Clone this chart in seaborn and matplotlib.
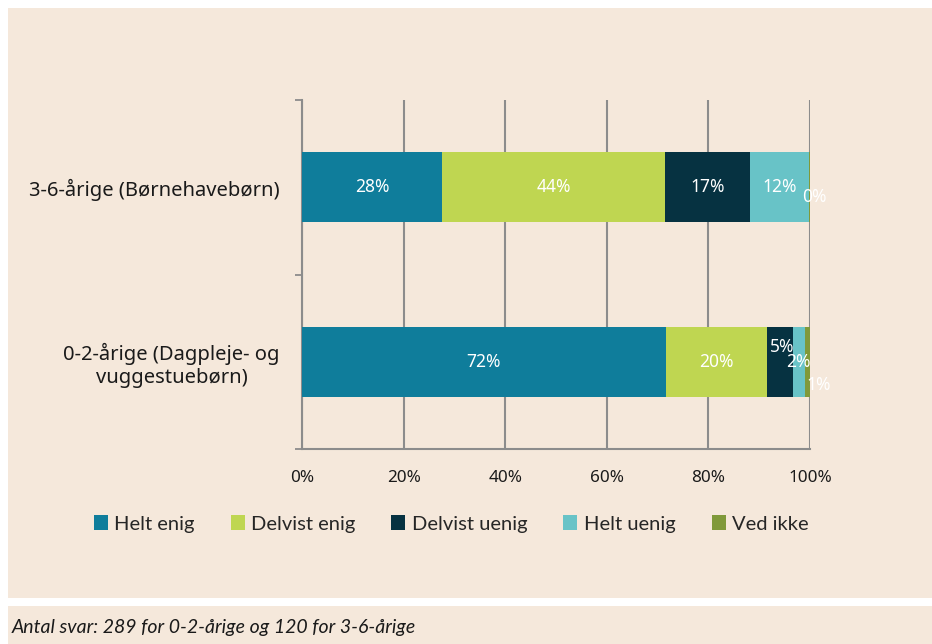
import matplotlib
matplotlib.use('Agg')
import matplotlib.pyplot as plt
from matplotlib.patches import Rectangle
import seaborn as sns
import pandas as pd
import numpy as np

# data (percent)
groups = ["3-6-årige (Børnehavebørn)", "0-2-årige (Dagpleje- og\nvuggestuebørn)"]
answers = ["Helt enig", "Delvist enig", "Delvist uenig", "Helt uenig", "Ved ikke"]
vals_3_6 = [27.6, 43.9, 16.7, 11.6, 0.2]
vals_0_2 = [71.6, 19.9, 5.1, 2.4, 1.0]
colors = ["#0f7d9b", "#bfd651", "#063241", "#68c3c7", "#80993a"]
x_ticks = [0, 20, 40, 60, 80, 100]

bg = "#f5e8db"

sns.set_theme(style="white")
plt.rcParams['font.family'] = ['Noto Sans', 'DejaVu Sans']

df = pd.DataFrame([vals_3_6, vals_0_2], columns=answers)
df.insert(0, "group", groups)
cum = df[answers].cumsum(axis=1)
cum["group"] = groups

fig = plt.figure(figsize=(9.32, 6.44), dpi=100)
fig.patch.set_facecolor("white")
fig.patches.append(Rectangle((8/932, 1-598/644), 1-8/932, 590/644,
                             transform=fig.transFigure, facecolor=bg, edgecolor="none", zorder=-10))
fig.patches.append(Rectangle((8/932, 0), 1-8/932, 1-606/644,
                             transform=fig.transFigure, facecolor=bg, edgecolor="none", zorder=-10))

ax = fig.add_axes([302/932, 1-449/644, 508/932, 349/644])
ax.set_facecolor(bg)

# stacked bars: draw cumulative totals from the last segment back to the first
for i in range(len(answers) - 1, -1, -1):
    sns.barplot(data=cum, x=answers[i], y="group", order=groups, color=colors[i],
                width=0.4, ax=ax, saturation=1, edgecolor="none", zorder=3)

# segment labels
offsets = {(0, 4): (5, -10), (1, 2): (2, 15), (1, 4): (11, -23)}
for r, row in enumerate([vals_3_6, vals_0_2]):
    left = 0
    for c, v in enumerate(row):
        dx, dy = offsets.get((r, c), (0, 0))
        ax.annotate(f"{round(v):.0f}%", (left + v / 2, r), xytext=(dx * 0.72, dy * 0.72),
                    textcoords="offset points", ha="center", va="center",
                    color="white", fontsize=12.5, zorder=5)
        left += v

ax.set_xlim(0, 100)
ax.set_ylim(1.5, -0.5)
ax.set_xticks(x_ticks)
ax.set_xticklabels([f"{t}%" for t in x_ticks], fontsize=12.3, color="#1a1a1a")
ax.set_yticks([-0.5, 0.5, 1.5])
ax.set_yticklabels([])
ax.set_yticks([0, 1], minor=True)
ax.set_yticklabels(groups, minor=True, fontsize=14.5, color="#1a1a1a", ha="right",
                   multialignment="center")
ax.tick_params(axis="y", which="major", left=True, length=5, width=1.3, color="#8c8c8c",
               direction="out")
ax.tick_params(axis="y", which="minor", left=True, length=0, pad=16)
ax.tick_params(axis="x", length=0, pad=15)
ax.set_xlabel("")
ax.set_ylabel("")
ax.grid(axis="x", color="#8c8c8c", linewidth=1.5, zorder=0)
for s in ["top", "right"]:
    ax.spines[s].set_visible(False)
for s in ["left", "bottom"]:
    ax.spines[s].set_color("#8c8c8c")
    ax.spines[s].set_linewidth(1.5)

handles = [Rectangle((0, 0), 1, 1, facecolor=c, edgecolor="none") for c in colors]
fig.legend(handles, answers, loc="center", bbox_to_anchor=(451/932, 1-524/644), ncol=5,
           frameon=False, handlelength=0.7, handleheight=0.7,
           handletextpad=0.3, columnspacing=1.8,
           prop={"family": ["Lato", "DejaVu Sans"], "size": 14.5})

fig.text(12/932, 1-628/644, "Antal svar: 289 for 0-2-årige og 120 for 3-6-årige",
         fontsize=14, style="italic", family=["Lato", "DejaVu Sans"], va="center", ha="left",
         color="#1a1a1a")

fig.savefig("out.png", dpi=100, facecolor=fig.get_facecolor())
